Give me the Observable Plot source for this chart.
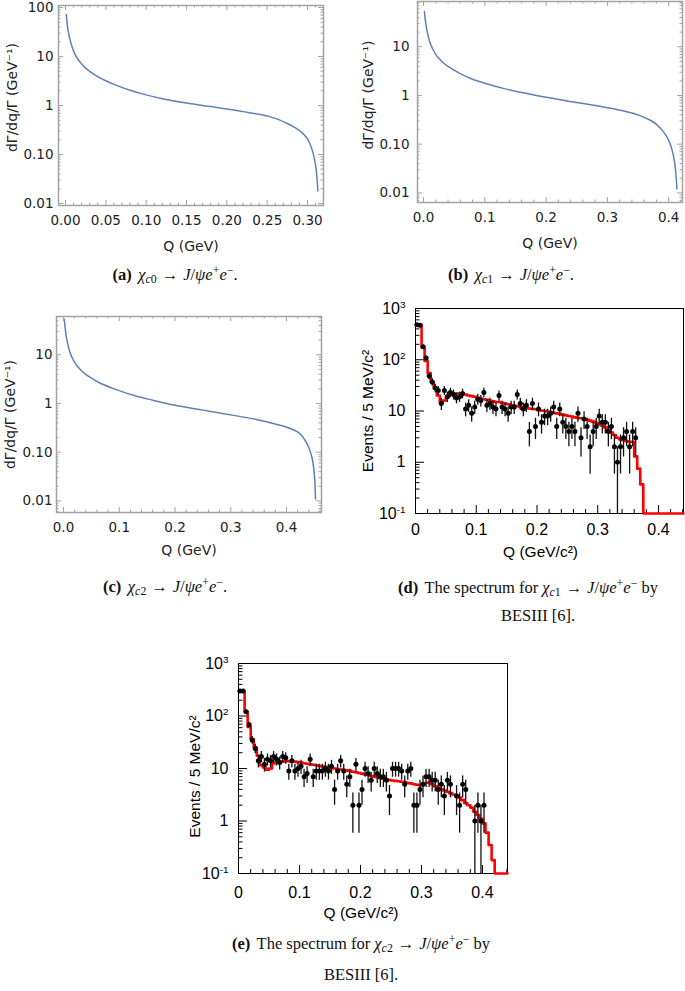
<!DOCTYPE html>
<html><head><meta charset="utf-8">
<script src="https://cdn.jsdelivr.net/npm/d3@7"></script>
<script src="https://cdn.jsdelivr.net/npm/@observablehq/plot@0.6"></script>
<style>
body{margin:0;background:#fff;}
#fig{position:relative;width:685px;height:991px;overflow:hidden;background:#fff;}
.p{position:absolute;}
.cap{position:absolute;width:420px;font-family:"Liberation Serif","DejaVu Serif",serif;font-size:16.5px;line-height:20px;color:#111;text-align:center;white-space:nowrap;}
.cap sub{font-size:0.72em;vertical-align:-0.25em;line-height:0;}
.cap sup{font-size:0.72em;vertical-align:0.5em;line-height:0;}
.cap .ar{margin:0 0.3em;}
.cap b{margin-right:0.15em;}
</style></head><body><div id="fig"></div>
<script>
// ---------- (a) chi_c0 -> J/psi e+ e-  (theory curve) ----------
const qA = [0.001,0.0015,0.002,0.003,0.004,0.005,0.0065,0.008,0.01,0.0125,0.015,0.02,0.025,0.03,0.04,0.05,0.06,0.08,0.10,0.12,0.15,0.18,0.20,0.22,0.24,0.255,0.265,0.275,0.285,0.292,0.298,0.302,0.306,0.309,0.311,0.3128];
const rateA = [72,58,48,36,29,24.5,19.5,16,13,10.6,9,7,5.8,5.0,3.9,3.2,2.7,2.05,1.65,1.38,1.12,0.95,0.85,0.75,0.66,0.58,0.51,0.43,0.35,0.29,0.23,0.18,0.12,0.075,0.045,0.018];
// ---------- (b) chi_c1 ----------
const qB = [0.0015,0.002,0.003,0.004,0.005,0.0065,0.008,0.01,0.0125,0.015,0.02,0.025,0.03,0.04,0.05,0.06,0.08,0.10,0.13,0.16,0.2,0.25,0.3,0.33,0.35,0.37,0.38,0.39,0.40,0.405,0.41,0.412,0.4135];
const rateB = [53,46,35,28.5,24,19,15.8,12.8,10.5,9,7,5.8,5.0,3.95,3.3,2.8,2.15,1.78,1.4,1.15,0.92,0.72,0.56,0.47,0.4,0.31,0.255,0.19,0.12,0.08,0.04,0.022,0.012];
// ---------- (c) chi_c2 ----------
const qC = [0.0015,0.002,0.003,0.004,0.005,0.0065,0.008,0.01,0.0125,0.015,0.02,0.025,0.03,0.04,0.05,0.066,0.096,0.13,0.16,0.198,0.25,0.305,0.35,0.395,0.42,0.43,0.44,0.446,0.45,0.452];
const rateC = [53,46,35,28.5,24,19,15.8,12.8,10.5,9,7,5.8,5.0,3.95,3.3,2.6,1.9,1.42,1.17,0.93,0.73,0.57,0.46,0.34,0.26,0.2,0.125,0.075,0.035,0.011];

const xTicksA = [0,0.05,0.1,0.15,0.2,0.25,0.3];
const xLabelsA = ["0.00","0.05","0.10","0.15","0.20","0.25","0.30"];
const xTicksBC = [0,0.1,0.2,0.3,0.4];
const xLabelsBC = ["0.0","0.1","0.2","0.3","0.4"];
const yTicksA = [0.01,0.1,1,10,100];
const yLabelsA = ["0.01","0.10","1","10","100"];
const yTicksBC = [0.01,0.1,1,10];
const yLabelsBC = ["0.01","0.10","1","10"];

// ---------- (d) BESIII chi_c1 spectrum ----------
const qD = [0.0025,0.0075,0.0125,0.0175,0.0225,0.0275,0.0325,0.0375,0.0425,0.0475,0.0525,0.0575,0.0625,0.0675,0.0725,0.0775,0.0825,0.0875,0.0925,0.0975,0.1025,0.1075,0.1125,0.1175,0.1225,0.1275,0.1325,0.1375,0.1425,0.1475,0.1525,0.1575,0.1625,0.1675,0.1725,0.1775,0.1825,0.1875,0.1925,0.1975,0.2025,0.2075,0.2125,0.2175,0.2225,0.2275,0.2325,0.2375,0.2425,0.2475,0.2525,0.2575,0.2625,0.2675,0.2725,0.2775,0.2825,0.2875,0.2925,0.2975,0.3025,0.3075,0.3125,0.3175,0.3225,0.3275,0.3325,0.3375,0.3425,0.3475,0.3525,0.3575,0.3625];
const eventsD = [480,470,180,108,48,37,28,25,14,25,19,23,21,18,19,22,11,13,9,12,17,16,23,13,14,12,11,20,12,11,9,12,12,21,14,11,13,4,14,5,11,6,8,8,9,12,5,11,6,5,4,5,4,9,3,7,5,2,4,5,8,6,6,4,5,2,1,2,3,4,2,4,3];
const mcEdgeD = [0,0.005,0.01,0.015,0.02,0.025,0.03,0.035,0.04,0.045,0.05,0.055,0.06,0.065,0.07,0.075,0.08,0.085,0.09,0.095,0.1,0.105,0.11,0.115,0.12,0.125,0.13,0.135,0.14,0.145,0.15,0.155,0.16,0.165,0.17,0.175,0.18,0.185,0.19,0.195,0.2,0.205,0.21,0.215,0.22,0.225,0.23,0.235,0.24,0.245,0.25,0.255,0.26,0.265,0.27,0.275,0.28,0.285,0.29,0.295,0.3,0.305,0.31,0.315,0.32,0.325,0.33,0.335,0.34,0.345,0.35,0.355,0.36,0.365,0.37,0.375,0.441];
const mcD = [480,480,175,95,55,37,28,20,14.5,16,19,21,22,22,22,21.5,21,20,19.5,19,18,17.5,17,16.5,16,15.5,15,15,14.5,14,13.5,13,12.8,12.5,12,11.8,11.5,11.2,11,10.8,10.5,10.2,10,9.8,9.5,9.2,9,8.8,8.5,8.2,8,7.8,7.5,7.3,7.2,7,6.8,6.5,6.2,5.9,5.6,5.2,4.8,4.3,3.8,3.4,3.0,2.8,2.7,2.6,2.5,2.5,1.3,0.75,0.37,0.1,0.1];

// ---------- (e) BESIII chi_c2 spectrum ----------
const qE = [0.0025,0.0075,0.0125,0.0175,0.0225,0.0275,0.0325,0.0375,0.0425,0.0475,0.0525,0.0575,0.0625,0.0675,0.0725,0.0775,0.0825,0.0875,0.0925,0.0975,0.1025,0.1075,0.1125,0.1175,0.1225,0.1275,0.1325,0.1375,0.1425,0.1475,0.1525,0.1575,0.1625,0.1675,0.1725,0.1775,0.1825,0.1875,0.1925,0.1975,0.2025,0.2075,0.2125,0.2175,0.2225,0.2275,0.2325,0.2375,0.2425,0.2475,0.2525,0.2575,0.2625,0.2675,0.2725,0.2775,0.2825,0.2875,0.2925,0.2975,0.3025,0.3075,0.3125,0.3175,0.3225,0.3275,0.3325,0.3375,0.3425,0.3475,0.3575,0.3625,0.3675,0.3725,0.3875,0.3925,0.3975,0.4025];
const eventsE = [300,300,120,68,35,24,14,17,12,15,14,17,15,13,17,16,9,14,9,10,11,7,8,15,7,9,9,9,10,9,11,4,9,14,9,5,7,2,12,2,4,10,8,6,10,8,7,7,6,3,10,10,10,9,5,9,10,2,2,4,5,7,7,6,6,4,5,3,6,5,3,2,5,4,1,2,1,2];
const mcEdgeE = [0,0.005,0.01,0.015,0.02,0.025,0.03,0.035,0.04,0.045,0.05,0.055,0.06,0.065,0.07,0.075,0.08,0.085,0.09,0.095,0.1,0.105,0.11,0.115,0.12,0.125,0.13,0.135,0.14,0.145,0.15,0.155,0.16,0.165,0.17,0.175,0.18,0.185,0.19,0.195,0.2,0.205,0.21,0.215,0.22,0.225,0.23,0.235,0.24,0.245,0.25,0.255,0.26,0.265,0.27,0.275,0.28,0.285,0.29,0.295,0.3,0.305,0.31,0.315,0.32,0.325,0.33,0.335,0.34,0.345,0.35,0.355,0.36,0.365,0.37,0.375,0.38,0.385,0.39,0.395,0.4,0.405,0.41,0.415,0.42,0.441];
const mcE = [300,300,120,62,36,25,17.5,11.5,10.5,9.5,10,12.5,13,13.3,13.5,13.8,13.8,13.5,13.5,13.2,13,12.6,12.3,12,11.8,11.5,11.2,11,10.8,10.5,10.3,10,9.8,9.6,9.4,9.2,9,8.7,8.5,8.2,8,7.7,7.5,7.2,7,6.8,6.6,6.4,6.2,6,5.9,5.8,5.7,5.6,5.5,5.3,5.2,5.0,4.9,4.8,5.0,5.3,5.4,5.0,4.6,4.3,4.0,3.8,3.6,3.4,3.2,3.0,2.8,2.5,2.2,2.0,1.8,1.5,1.3,1.1,0.9,0.6,0.35,0.18,0.1,0.1];

const rootXTicks = [0,0.1,0.2,0.3,0.4];
const rootXLabels = ["0","0.1","0.2","0.3","0.4"];
const rootYTicks = [0.1,1,10,100,1000];
const rootYLabels = ["10^-1","1","10","10^2","10^3"];

const ARROW = '<span class="ar">→</span>';
const captions = [
  {cx:175, cy:275, html:'<b>(a)</b> <i>χ</i><sub><i>c</i>0</sub>'+ARROW+'<i>J</i>/<i>ψe</i><sup>+</sup><i>e</i><sup>−</sup>.'},
  {cx:511, cy:275, html:'<b>(b)</b> <i>χ</i><sub><i>c</i>1</sub>'+ARROW+'<i>J</i>/<i>ψe</i><sup>+</sup><i>e</i><sup>−</sup>.'},
  {cx:165, cy:587, html:'<b>(c)</b> <i>χ</i><sub><i>c</i>2</sub>'+ARROW+'<i>J</i>/<i>ψe</i><sup>+</sup><i>e</i><sup>−</sup>.'},
  {cx:528, cy:588, html:'<b>(d)</b> The spectrum for <i>χ</i><sub><i>c</i>1</sub>'+ARROW+'<i>J</i>/<i>ψe</i><sup>+</sup><i>e</i><sup>−</sup> by'},
  {cx:538, cy:616, html:'BESIII [6].'},
  {cx:361, cy:944, html:'<b>(e)</b> The spectrum for <i>χ</i><sub><i>c</i>2</sub>'+ARROW+'<i>J</i>/<i>ψe</i><sup>+</sup><i>e</i><sup>−</sup> by'},
  {cx:361, cy:975, html:'BESIII [6].'}
];

// ---------- helpers ----------
function logMinor(dom){const out=[];for(let e=Math.floor(Math.log10(dom[0]));e<=Math.ceil(Math.log10(dom[1]));e++)for(let m=2;m<=9;m++){const v=m*Math.pow(10,e);if(v>dom[0]&&v<dom[1])out.push(v);}return out;}
function linMinor(dom,step,majors){const out=[];const k0=Math.ceil(dom[0]/step-1e-9),k1=Math.floor(dom[1]/step+1e-9);for(let k=k0;k<=k1;k++){const v=+(k*step).toFixed(5);if(!majors.some(t=>Math.abs(t-v)<1e-7))out.push(v);}return out;}

const fig=document.getElementById("fig");
function place(svg,left,top){const d=document.createElement("div");d.className="p";d.style.left=left+"px";d.style.top=top+"px";d.appendChild(svg);fig.appendChild(d);}

const MMA_BLUE="#5e81b5", MMA_FRAME="#a3a3a3";
function mmaPanel(o){
  const fw=o.width-o.ml-o.mr, fh=o.height-o.mt-o.mb;
  const xm=linMinor(o.xDomain,o.xMinorStep,o.xTicks);
  const ym=logMinor(o.yDomain);
  const xl=new Map(o.xTicks.map((t,i)=>[t,o.xLabels[i]]));
  const yl=new Map(o.yTicks.map((t,i)=>[t,o.yLabels[i]]));
  const pts=o.q.map((q,i)=>({q,v:o.v[i]}));
  const tk={stroke:MMA_FRAME,strokeWidth:1};
  return Plot.plot({
    width:o.width,height:o.height,marginLeft:o.ml,marginRight:o.mr,marginTop:o.mt,marginBottom:o.mb,
    style:{fontFamily:"'DejaVu Sans',sans-serif",fontSize:"13.5px",color:"#222",background:"transparent",overflow:"visible",maxWidth:"none"},
    x:{domain:o.xDomain},
    y:{type:"log",domain:o.yDomain},
    marks:[
      Plot.axisX(o.xTicks,{tickSize:0,tickPadding:o.xPad,tickFormat:d=>xl.get(d),label:null}),
      Plot.axisY(o.yTicks,{tickSize:0,tickPadding:o.yPad,tickFormat:d=>yl.get(d),label:null}),
      Plot.tickX(o.xTicks,{x:d=>d,insetTop:fh-5,...tk}),
      Plot.tickX(o.xTicks,{x:d=>d,insetBottom:fh-5,...tk}),
      Plot.tickX(xm,{x:d=>d,insetTop:fh-2.5,...tk}),
      Plot.tickX(xm,{x:d=>d,insetBottom:fh-2.5,...tk}),
      Plot.tickY(o.yTicks,{y:d=>d,insetRight:fw-5,...tk}),
      Plot.tickY(o.yTicks,{y:d=>d,insetLeft:fw-5,...tk}),
      Plot.tickY(ym,{y:d=>d,insetRight:fw-2.5,...tk}),
      Plot.tickY(ym,{y:d=>d,insetLeft:fw-2.5,...tk}),
      Plot.frame({stroke:MMA_FRAME,strokeWidth:1.5}),
      Plot.line(pts,{x:"q",y:"v",stroke:MMA_BLUE,strokeWidth:1.5,curve:"catmull-rom"}),
      Plot.text([o.xTitle],{frameAnchor:"bottom",dy:o.xTitleDy,text:d=>d,fontSize:14,lineAnchor:"middle",textAnchor:"middle"}),
      Plot.text([o.yTitle],{frameAnchor:"left",dx:o.yTitleDx,dy:o.yTitleDy,rotate:-90,text:d=>d,fontSize:14,lineAnchor:"middle",textAnchor:"middle"})
    ]
  });
}

function rootPanel(o){
  const fw=o.width-o.ml-o.mr, fh=o.height-o.mt-o.mb;
  const xm=linMinor(o.xDomain,0.02,rootXTicks);
  const ym=logMinor(o.yDomain);
  const xl=new Map(rootXTicks.map((t,i)=>[t,rootXLabels[i]]));
  const yl=new Map(rootYTicks.map((t,i)=>[t,rootYLabels[i]]));
  const data=o.q.map((q,i)=>{const n=o.n[i],e=Math.sqrt(n);return {q,v:n,lo:Math.max(n-e,o.yDomain[0]),hi:n+e};});
  const mc=o.mcQ.map((q,i)=>({q,v:o.mcV[i]}));
  const svg=Plot.plot({
    width:o.width,height:o.height,marginLeft:o.ml,marginRight:o.mr,marginTop:o.mt,marginBottom:o.mb,
    style:{fontFamily:"'Liberation Sans',Arial,sans-serif",fontSize:"16px",color:"#000",background:"transparent",overflow:"visible",maxWidth:"none"},
    x:{domain:o.xDomain},
    y:{type:"log",domain:o.yDomain},
    marks:[
      Plot.axisX(rootXTicks,{tickSize:0,tickPadding:o.xPad,tickFormat:d=>xl.get(d),label:null}),
      Plot.axisY(rootYTicks,{tickSize:0,tickPadding:o.yPad,tickFormat:d=>yl.get(d),label:null}),
      Plot.tickX(rootXTicks,{x:d=>d,insetTop:fh-8,stroke:"#000"}),
      Plot.tickX(xm,{x:d=>d,insetTop:fh-4,stroke:"#000"}),
      Plot.tickY(rootYTicks,{y:d=>d,insetRight:fw-9,stroke:"#000"}),
      Plot.tickY(ym,{y:d=>d,insetRight:fw-4.5,stroke:"#000"}),
      Plot.frame({stroke:"#000",strokeWidth:1}),
      Plot.line(mc,{x:"q",y:"v",curve:"step-after",stroke:"#ff0000",strokeWidth:2.6}),
      Plot.ruleX(data,{x:"q",y1:"lo",y2:"hi",stroke:"#111",strokeWidth:1.3}),
      Plot.dot(data,{x:"q",y:"v",r:2.5,fill:"#000",stroke:null}),
      Plot.text([o.xTitle],{frameAnchor:"bottom",dx:o.xTitleDx,dy:o.xTitleDy,text:d=>d,fontSize:15.5,lineAnchor:"middle",textAnchor:"middle"}),
      Plot.text([o.yTitle],{frameAnchor:"left",dx:o.yTitleDx,dy:o.yTitleDy,rotate:-90,text:d=>d,fontSize:15.5,lineAnchor:"middle",textAnchor:"middle"})
    ]
  });
  svg.querySelectorAll('g[aria-label="y-axis tick label"] text').forEach(t=>{
    const m=/^10\^(.+)$/.exec(t.textContent);
    if(m){t.textContent="10";const ts=document.createElementNS("http://www.w3.org/2000/svg","tspan");ts.setAttribute("dy","-0.6em");ts.setAttribute("font-size","0.62em");ts.textContent=m[1];t.appendChild(ts);}
  });
  return svg;
}

// ---------- panels ----------
const yTitleMma="dΓ/dq/Γ (GeV⁻¹)";
place(mmaPanel({q:qA,v:rateA,width:330,height:255,ml:58,mr:7,mt:2,mb:53,
  xDomain:[-0.0087,0.3198],yDomain:[0.0091,110],xTicks:xTicksA,xLabels:xLabelsA,xMinorStep:0.01,
  yTicks:yTicksA,yLabels:yLabelsA,xPad:10,yPad:5,xTitle:"Q (GeV)",xTitleDy:41,yTitle:yTitleMma,yTitleDx:-46,yTitleDy:-8}),0,3);
place(mmaPanel({q:qB,v:rateB,width:345,height:255,ml:77,mr:3,mt:1,mb:53,
  xDomain:[-0.0098,0.4225],yDomain:[0.00635,85],xTicks:xTicksBC,xLabels:xLabelsBC,xMinorStep:0.02,
  yTicks:yTicksBC,yLabels:yLabelsBC,xPad:10,yPad:8,xTitle:"Q (GeV)",xTitleDy:41,yTitle:yTitleMma,yTitleDx:-49,yTitleDy:-7}),340,0);
place(mmaPanel({q:qC,v:rateC,width:330,height:265,ml:56,mr:9,mt:16,mb:53,
  xDomain:[-0.01256,0.4628],yDomain:[0.00578,61],xTicks:xTicksBC,xLabels:xLabelsBC,xMinorStep:0.02,
  yTicks:yTicksBC,yLabels:yLabelsBC,xPad:10,yPad:4,xTitle:"Q (GeV)",xTitleDy:38,yTitle:yTitleMma,yTitleDx:-46,yTitleDy:0}),0,300);
place(rootPanel({q:qD,n:eventsD,mcQ:mcEdgeD,mcV:mcD,width:345,height:275,ml:75,mr:2,mt:18,mb:52,
  xDomain:[0,0.4412],yDomain:[0.1,1000],xPad:10,yPad:10,xTitle:"Q (GeV/c²)",xTitleDx:-9,xTitleDy:39,
  yTitle:"Events / 5 MeV/c²",yTitleDx:-47,yTitleDy:0}),340,290);
place(rootPanel({q:qE,n:eventsE,mcQ:mcEdgeE,mcV:mcE,width:360,height:290,ml:78,mr:13,mt:23,mb:57,
  xDomain:[0,0.441],yDomain:[0.1,1000],xPad:13,yPad:10,xTitle:"Q (GeV/c²)",xTitleDx:-12,xTitleDy:40,
  yTitle:"Events / 5 MeV/c²",yTitleDx:-43,yTitleDy:8}),160,640);

// ---------- captions ----------
captions.forEach(c=>{const d=document.createElement("div");d.className="cap";d.style.left=(c.cx-210)+"px";d.style.top=(c.cy-10)+"px";d.innerHTML=c.html;fig.appendChild(d);});
</script></body></html>
